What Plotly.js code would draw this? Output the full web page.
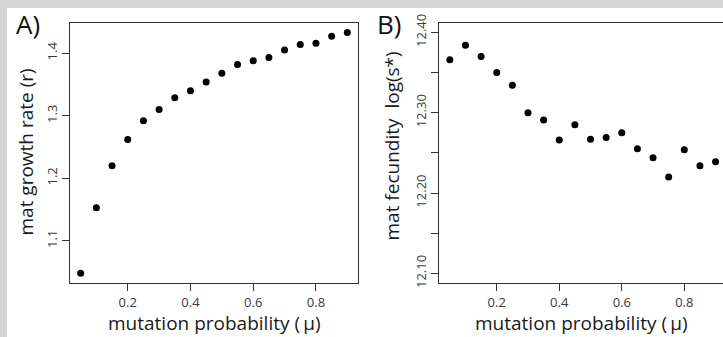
<!DOCTYPE html>
<html>
<head>
<meta charset="utf-8">
<script src="https://cdn.plot.ly/plotly-3.0.1.min.js"></script>
<style>html,body{margin:0;padding:0;background:#d4d4d4;}#chart{width:723px;height:337px;}</style>
</head>
<body>
<div id="chart"></div>
<script>
// Data
const mu = [0.05, 0.10, 0.15, 0.20, 0.25, 0.30, 0.35, 0.40, 0.45, 0.50, 0.55, 0.60, 0.65, 0.70, 0.75, 0.80, 0.85, 0.90];
const growthRate = [1.048, 1.153, 1.220, 1.262, 1.292, 1.310, 1.329, 1.340, 1.354, 1.368, 1.382, 1.388, 1.393, 1.405, 1.414, 1.416, 1.427, 1.433];
const logFecundity = [12.366, 12.384, 12.370, 12.350, 12.334, 12.300, 12.291, 12.266, 12.285, 12.267, 12.269, 12.275, 12.255, 12.244, 12.220, 12.254, 12.234, 12.239];
const xTicks = [0.2, 0.4, 0.6, 0.8];
const xTickText = ["0.2", "0.4", "0.6", "0.8"];
const yTicksA = [1.1, 1.2, 1.3, 1.4];
const yTickTextA = ["1.1", "1.2", "1.3", "1.4"];
const yTicksB = [12.10, 12.15, 12.20, 12.25, 12.30, 12.35, 12.40];
const yTickTextB = ["12.10", "", "12.20", "", "12.30", "", "12.40"];
const panelLabels = ["A)", "B)"];
const xTitle = "mutation probability (\u2009\u03bc)";
const yTitleA = "mat growth rate (r)";
const yTitleB = "mat fecundity  log(s*)";

const W = 723, H = 337;
const px = v => v / W;
const py = v => 1 - v / H;

const FONT = "Open Sans, sans-serif";
const tickFont = {family: FONT, size: 13, color: "#3a3a3a"};
const titleFont = {family: FONT, size: 19, color: "#1a1a1a"};
const axisColor = "#333333";

const markerStyle = {color: "#000000", size: 7, line: {width: 0}};

const traces = [
  {x: mu, y: growthRate, type: "scatter", mode: "markers", marker: markerStyle, xaxis: "x", yaxis: "y", hoverinfo: "x+y"},
  {x: mu, y: logFecundity, type: "scatter", mode: "markers", marker: markerStyle, xaxis: "x2", yaxis: "y2", hoverinfo: "x+y"}
];

function xAxis(domain, range) {
  return {
    domain: domain, range: range, tickvals: xTicks, ticktext: xTickText,
    ticks: "outside", ticklen: 7, tickwidth: 1, tickcolor: axisColor,
    showline: true, linecolor: axisColor, linewidth: 1.2, mirror: true,
    showgrid: false, zeroline: false, tickfont: tickFont, fixedrange: true
  };
}
function yAxis(domain, range, vals, text, mirror) {
  return {
    domain: domain, range: range, tickvals: vals, ticktext: text, tickangle: -90,
    ticks: "outside", ticklen: 7, tickwidth: 1, tickcolor: axisColor,
    showline: true, linecolor: axisColor, linewidth: 1.2, mirror: mirror,
    showgrid: false, zeroline: false, tickfont: tickFont, fixedrange: true
  };
}

const yDomain = [py(283), py(22.7)];

const layout = {
  width: W, height: H,
  margin: {l: 0, r: 0, t: 0, b: 0, pad: 0},
  paper_bgcolor: "#d4d4d4",
  plot_bgcolor: "#ffffff",
  showlegend: false,
  xaxis: xAxis([px(70), px(358)], [0.016, 0.934]),
  yaxis: yAxis(yDomain, [1.0326, 1.4488], yTicksA, yTickTextA, true),
  xaxis2: Object.assign(xAxis([px(439.2), 1], [0.016, 0.9238]), {anchor: "y2"}),
  yaxis2: Object.assign(yAxis(yDomain, [12.088, 12.412], yTicksB, yTickTextB, false), {anchor: "x2"}),
  shapes: [
    {type: "rect", xref: "paper", yref: "paper", x0: px(7), x1: 1.01, y0: -0.01, y1: py(8), fillcolor: "#ffffff", line: {width: 0}, layer: "below"}
  ],
  annotations: [
    {text: panelLabels[0], x: px(28), y: py(24), xref: "paper", yref: "paper", showarrow: false, xanchor: "center", yanchor: "middle", font: {family: FONT, size: 26, color: "#111"}},
    {text: panelLabels[1], x: px(388.5), y: py(24), xref: "paper", yref: "paper", showarrow: false, xanchor: "center", yanchor: "middle", font: {family: FONT, size: 26, color: "#111"}},
    {text: xTitle, x: px(214.5), y: py(323), xref: "paper", yref: "paper", showarrow: false, xanchor: "center", yanchor: "middle", font: titleFont},
    {text: xTitle, x: px(581.5), y: py(323), xref: "paper", yref: "paper", showarrow: false, xanchor: "center", yanchor: "middle", font: titleFont},
    {text: yTitleA, x: px(25), y: py(152.5), xref: "paper", yref: "paper", showarrow: false, xanchor: "center", yanchor: "middle", textangle: -90, font: titleFont},
    {text: yTitleB, x: px(391), y: py(146.5), xref: "paper", yref: "paper", showarrow: false, xanchor: "center", yanchor: "middle", textangle: -90, font: titleFont}
  ]
};

Plotly.newPlot("chart", traces, layout, {displayModeBar: false, staticPlot: true});
</script>
</body>
</html>
